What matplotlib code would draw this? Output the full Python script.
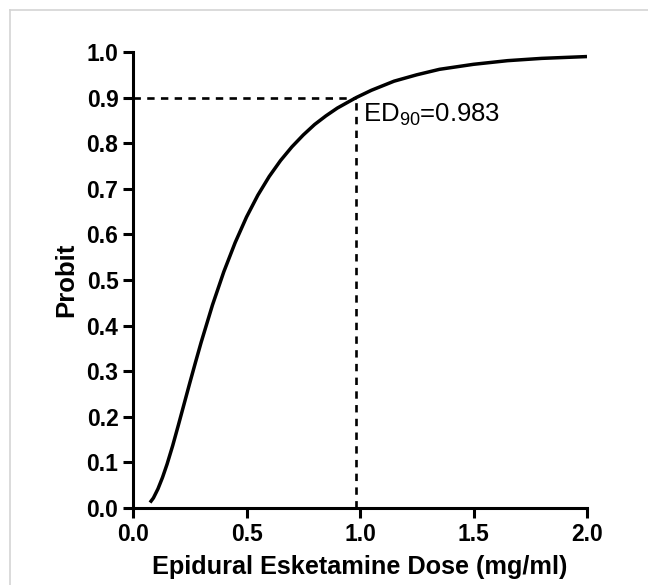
import matplotlib
matplotlib.use("Agg")
import matplotlib.pyplot as plt
from matplotlib.lines import Line2D

plt.rcParams['font.family'] = ['Liberation Sans', 'DejaVu Sans']
plt.rcParams['mathtext.fontset'] = 'custom'
plt.rcParams['mathtext.rm'] = 'Liberation Sans'
plt.rcParams['mathtext.it'] = 'Liberation Sans'

dose = [0.075, 0.09, 0.11, 0.13, 0.15, 0.175, 0.20, 0.225, 0.25, 0.275, 0.30,
        0.35, 0.40, 0.45, 0.50, 0.55, 0.60, 0.65, 0.70, 0.75, 0.80, 0.85, 0.90,
        0.983, 1.05, 1.15, 1.25, 1.35, 1.50, 1.65, 1.80, 2.0]
probit = [0.012, 0.022, 0.042, 0.067, 0.096, 0.137, 0.182, 0.228, 0.274, 0.319, 0.363,
          0.445, 0.518, 0.582, 0.638, 0.686, 0.727, 0.762, 0.792, 0.818, 0.841, 0.860, 0.877,
          0.900, 0.916, 0.936, 0.950, 0.962, 0.973, 0.981, 0.986, 0.990]
ed90 = 0.983
p90 = 0.9
xticks = [0.0, 0.5, 1.0, 1.5, 2.0]
yticks = [0.0, 0.1, 0.2, 0.3, 0.4, 0.5, 0.6, 0.7, 0.8, 0.9, 1.0]

W, H = 648, 585
fig = plt.figure(figsize=(W / 100, H / 100), dpi=100)
ax = fig.add_axes([133 / W, 1 - 508 / H, (587 - 133) / W, (508 - 52) / H])

ax.plot(dose, probit, color='black', lw=2.5, solid_capstyle='butt', solid_joinstyle='round')
ax.plot([0, ed90], [p90, p90], color='black', lw=1.9, linestyle=(0, (2.8, 2.4)))
ax.plot([ed90, ed90], [0, p90], color='black', lw=1.9, linestyle=(0, (2.8, 2.4)))

ax.set_xlim(0, 2.0)
ax.set_ylim(0, 1.0)
ax.set_xticks(xticks)
ax.set_yticks(yticks)
ax.set_xticklabels([f"{t:.1f}" for t in xticks], fontsize=16.5, fontweight='bold')
ax.set_yticklabels([f"{t:.1f}" for t in yticks], fontsize=16.5, fontweight='bold')
for s in ['top', 'right']:
    ax.spines[s].set_visible(False)
for s in ['left', 'bottom']:
    ax.spines[s].set_linewidth(2.2)
ax.tick_params(axis='both', direction='out', length=7.5, width=2.2, pad=3)

ax.set_xlabel('Epidural Esketamine Dose (mg/ml)', fontsize=18.2, fontweight='bold', labelpad=7)
ax.set_ylabel('Probit', fontsize=18.5, fontweight='bold', labelpad=6)

ax.text(1.014, 0.847, r'ED$_{\mathrm{90}}$=0.983', fontsize=18.5, ha='left', va='baseline')

fig.add_artist(Line2D([10 / W, 10 / W], [0, 1 - 10 / H], color='#d4d4d4', lw=1.2,
                      transform=fig.transFigure))
fig.add_artist(Line2D([10 / W, 1], [1 - 10 / H, 1 - 10 / H], color='#d4d4d4', lw=1.2,
                      transform=fig.transFigure))

fig.savefig('out.png', dpi=100)
